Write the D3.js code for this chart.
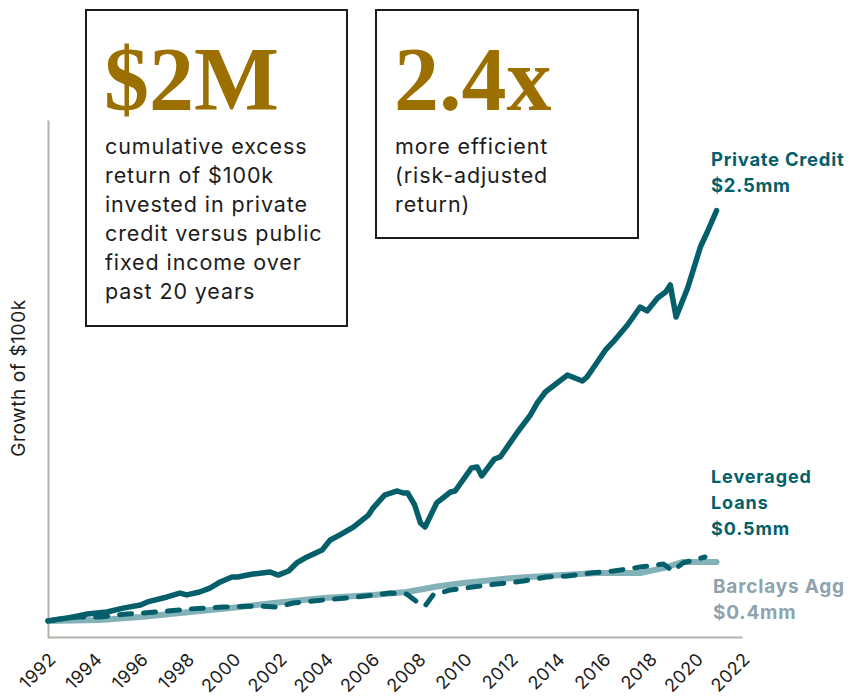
<!DOCTYPE html>
<html>
<head>
<meta charset="utf-8">
<script src="https://cdn.jsdelivr.net/npm/d3@7"></script>
<style>
  body { margin: 0; background: #fff; }
  svg { display: block; }
</style>
</head>
<body>
<svg id="chart" width="850" height="698"></svg>
<script>
// Growth of $100k, thousands of dollars, by fractional year
const privateCredit = [
  [1992.0, 100], [1993.1, 123], [1993.7, 140], [1994.55, 152], [1995.25, 175],
  [1996.0, 193], [1996.3, 211], [1997.15, 240], [1997.7, 263], [1998.0, 252],
  [1998.55, 269], [1999.0, 292], [1999.45, 328], [1999.95, 357], [2000.2, 357],
  [2000.85, 374], [2001.6, 386], [2001.95, 368], [2002.4, 392], [2002.75, 439],
  [2003.2, 474], [2003.85, 515], [2004.2, 573], [2004.6, 602], [2005.2, 649],
  [2005.85, 719], [2006.05, 760], [2006.55, 836], [2007.1, 860], [2007.35, 848],
  [2007.55, 848], [2007.85, 778], [2008.1, 673], [2008.3, 649], [2008.8, 790],
  [2009.4, 854], [2009.6, 860], [2010.3, 994], [2010.55, 1000], [2010.75, 948],
  [2011.3, 1047], [2011.55, 1059], [2012.3, 1205], [2012.85, 1304], [2013.15, 1375],
  [2013.5, 1439], [2014.45, 1538], [2015.1, 1503], [2015.3, 1527], [2015.45, 1556],
  [2016.1, 1685], [2016.5, 1743], [2017.05, 1831], [2017.6, 1936], [2017.9, 1913],
  [2018.35, 1989], [2018.7, 2024], [2018.9, 2065], [2019.15, 1878], [2019.65, 2047],
  [2020.2, 2287], [2020.5, 2375], [2020.9, 2500]
];

const leveragedLoans = [
  [1992.0, 100], [1993.1, 123], [1994.25, 123], [1995.4, 140], [1996.7, 152],
  [1998.15, 170], [1999.55, 181], [2001.05, 187], [2001.9, 181], [2002.6, 205],
  [2003.9, 222], [2005.35, 240], [2006.8, 263], [2007.5, 257], [2007.95, 211],
  [2008.3, 187], [2008.65, 252], [2009.4, 281], [2010.35, 298], [2011.4, 316],
  [2012.55, 333], [2013.55, 357], [2014.45, 363], [2015.45, 380], [2016.45, 392],
  [2017.6, 415], [2018.6, 433], [2019.0, 392], [2019.45, 439], [2020.4, 474]
];

const barclaysAgg = [
  [1992.0, 100], [1994.25, 105], [1996.0, 123], [1998.15, 152], [2000.3, 181],
  [2001.75, 205], [2003.9, 234], [2006.05, 252], [2007.5, 269], [2008.95, 304],
  [2009.95, 322], [2012.1, 351], [2014.25, 369], [2015.75, 380], [2017.6, 380],
  [2018.6, 409], [2019.45, 445], [2020.9, 445]
];

const yearTicks = d3.range(1992, 2023, 2);

const teal = "#045f6b";
const lightTeal = "#82b1b8";
const gold = "#9b6f00";
const aggGrey = "#8ea3ad";
const ink = "#1c1c1c";
const sans = "Inter, 'Open Sans', sans-serif";

const svg = d3.select("#chart");

const x = d3.scaleLinear().domain([1992, 2022]).range([48, 742]);
const y = d3.scaleLinear().domain([0, 3030]).range([638, 120]);

// axes: plain grey spines, rotated year labels
const yAxis = svg.append("g")
  .attr("transform", `translate(${x(1992)},0)`)
  .call(d3.axisLeft(y).tickValues([]).tickSizeOuter(0));
yAxis.select(".domain").attr("stroke", "#b3b2ac").attr("stroke-width", 2);

const xAxis = svg.append("g")
  .attr("transform", `translate(0,${y(0) - 1})`)
  .call(d3.axisBottom(x).tickValues(yearTicks).tickFormat(d3.format("d")).tickSize(0).tickSizeOuter(0));
xAxis.select(".domain").attr("stroke", "#b3b2ac").attr("stroke-width", 2);
xAxis.selectAll("text")
  .attr("x", 0).attr("y", 0).attr("dy", "0.35em")
  .attr("text-anchor", "end")
  .attr("transform", "translate(4,19) rotate(-45)")
  .attr("font-family", sans)
  .attr("font-size", 18)
  .attr("letter-spacing", 0.4)
  .attr("fill", ink);

svg.append("text")
  .attr("transform", `translate(25,378) rotate(-90)`)
  .attr("text-anchor", "middle")
  .attr("font-family", sans)
  .attr("font-size", 19)
  .attr("letter-spacing", 0.6)
  .attr("fill", ink)
  .text("Growth of $100k");

const path = d3.line().x(d => x(d[0])).y(d => y(d[1]));

svg.append("path")
  .datum(barclaysAgg)
  .attr("d", path)
  .attr("fill", "none")
  .attr("stroke", lightTeal)
  .attr("stroke-width", 6)
  .attr("stroke-linecap", "round")
  .attr("stroke-linejoin", "round");

svg.append("path")
  .datum(leveragedLoans)
  .attr("d", path)
  .attr("fill", "none")
  .attr("stroke", teal)
  .attr("stroke-width", 5)
  .attr("stroke-dasharray", "12 12")
  .attr("stroke-linecap", "round")
  .attr("stroke-linejoin", "round");

svg.append("path")
  .datum(privateCredit)
  .attr("d", path)
  .attr("fill", "none")
  .attr("stroke", teal)
  .attr("stroke-width", 5.5)
  .attr("stroke-linecap", "round")
  .attr("stroke-linejoin", "round");

// end-of-series labels
function labelBlock(lines, x0, y0, color, size, spacing) {
  const t = svg.append("text")
    .attr("font-family", sans)
    .attr("font-weight", 700)
    .attr("font-size", size)
    .attr("letter-spacing", spacing)
    .attr("fill", color);
  lines.forEach((s, i) => {
    t.append("tspan").attr("x", x0).attr("y", y0 + i * 26).text(s);
  });
}
labelBlock(["Private Credit", "$2.5mm"], 711, 166, teal, 18.5, 0.7);
labelBlock(["Leveraged", "Loans", "$0.5mm"], 711, 483, teal, 18, 0.9);
labelBlock(["Barclays Agg", "$0.4mm"], 713, 593, aggGrey, 19, 0.8);

// call-out boxes
function callout(bx, by, bw, bh, headline, body) {
  svg.append("rect")
    .attr("x", bx).attr("y", by).attr("width", bw).attr("height", bh)
    .attr("fill", "#fff")
    .attr("stroke", ink)
    .attr("stroke-width", 2);
  svg.append("text")
    .attr("x", bx + 18).attr("y", by + 100)
    .attr("font-family", "'Liberation Serif', 'DejaVu Serif', serif")
    .attr("font-weight", 700)
    .attr("font-size", 90)
    .attr("fill", gold)
    .text(headline);
  const t = svg.append("text")
    .attr("font-family", sans)
    .attr("font-size", 21.5)
    .attr("letter-spacing", 0.9)
    .attr("fill", ink);
  body.forEach((s, i) => {
    t.append("tspan").attr("x", bx + 19).attr("y", by + 144 + i * 29).text(s);
  });
}
callout(86, 10, 261, 316, "$2M", [
  "cumulative excess",
  "return of $100k",
  "invested in private",
  "credit versus public",
  "fixed income over",
  "past 20 years"
]);
callout(376, 10, 262, 228, "2.4x", [
  "more efficient",
  "(risk-adjusted",
  "return)"
]);
</script>
</body>
</html>
